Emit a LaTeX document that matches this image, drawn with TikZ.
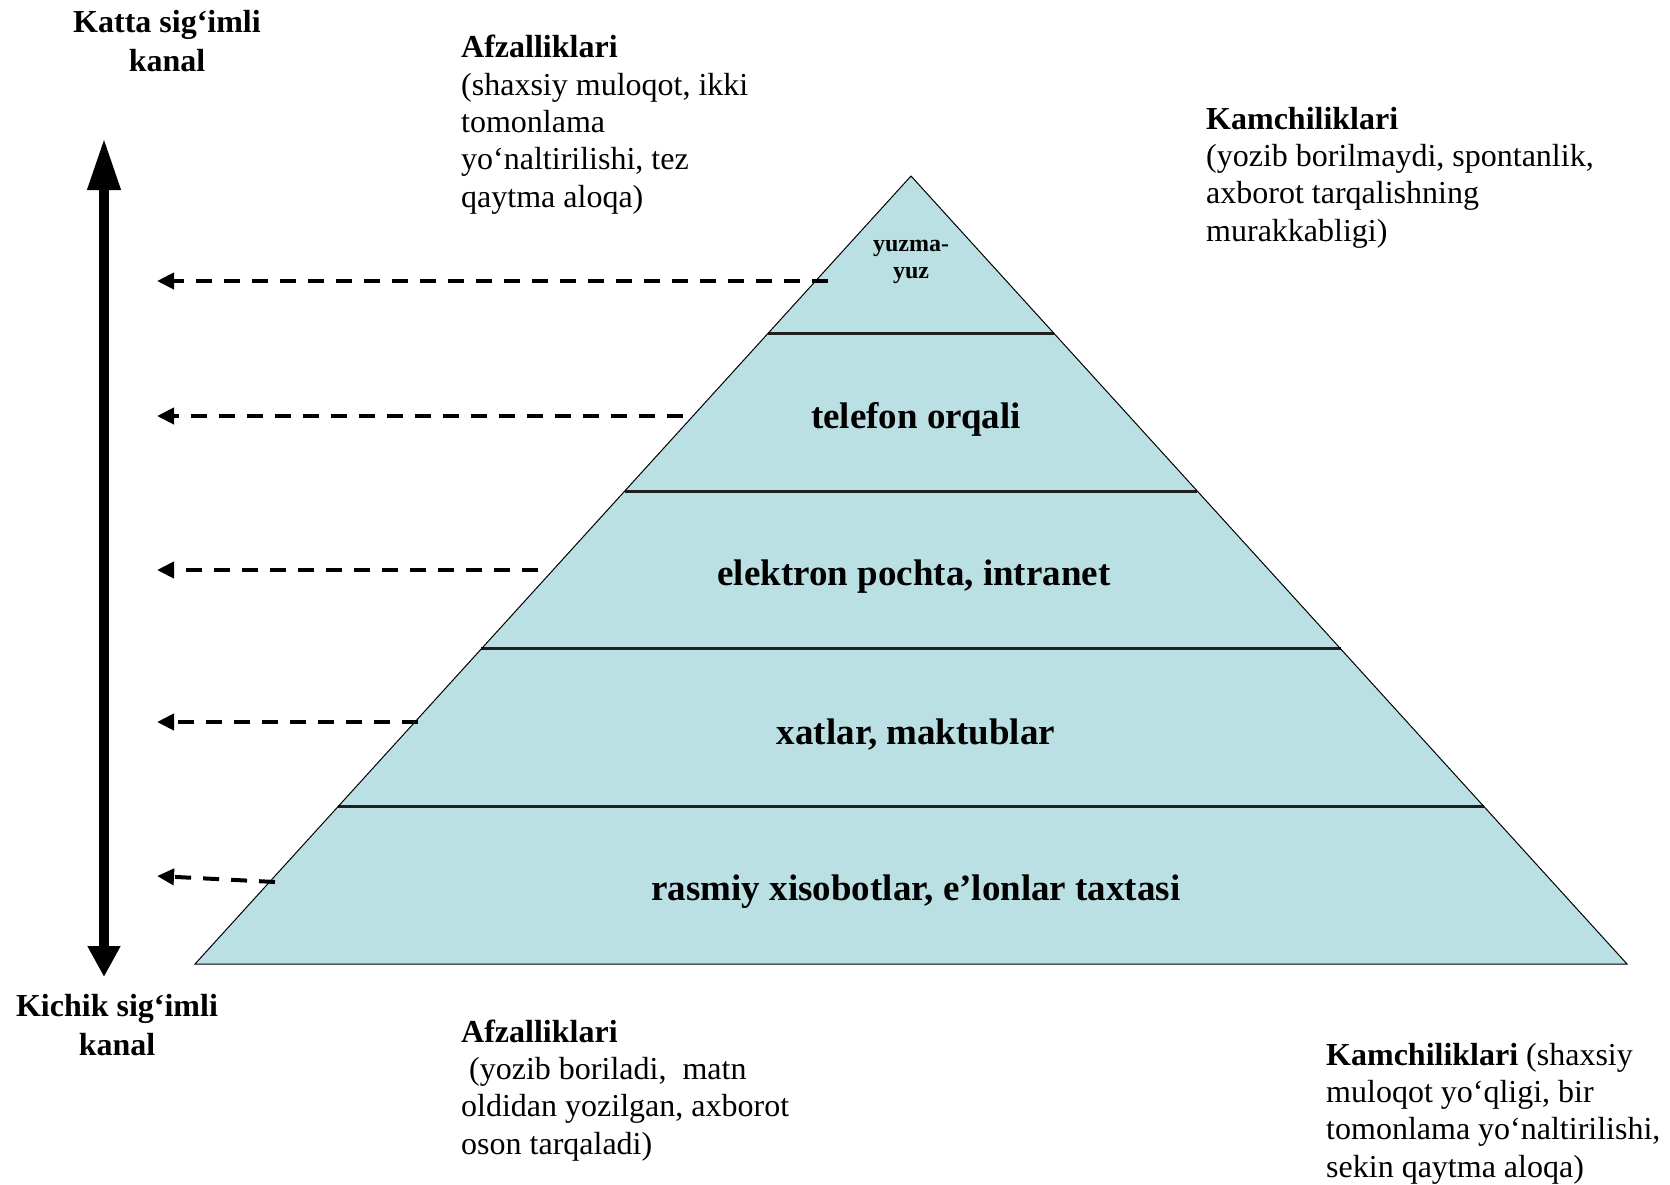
\documentclass[tikz,border=0pt]{standalone}
\usepackage{fontspec}
\setmainfont{Liberation Serif}
\usetikzlibrary{arrows.meta,calc}
\definecolor{pyrfill}{RGB}{187,224,227}
\begin{document}
\begin{tikzpicture}[x=1pt,y=-1pt,
  % multi-line nodes: the base anchor sits on the last line
  body/.style={anchor=base west, align=left, inner sep=0pt,
    font=\fontsize{32}{37.3}\selectfont},
  sidelabel/.style={anchor=base, align=center, inner sep=0pt,
    font=\fontsize{32}{38.5}\selectfont\bfseries},
  bandlabel/.style={anchor=base, align=center, inner sep=0pt,
    font=\fontsize{37}{42}\selectfont\bfseries},
  toplabel/.style={anchor=base, align=center, inner sep=0pt,
    font=\fontsize{24}{27}\selectfont\bfseries},
  bandline/.style={line width=2.8pt, draw=black!88},
  pointer/.style={line width=4pt, dash pattern=on 16pt off 12pt,
    -{Triangle[length=17pt,width=16pt]}},
  capacityaxis/.style={line width=10pt,
    {Triangle[length=52pt,width=31pt]}-{Triangle[length=31pt,width=31pt]}}
]
\useasboundingbox (0,0) rectangle (1670,1184);

% pyramid
\coordinate (apex) at (911,176);
\coordinate (bl) at (195,964);
\coordinate (br) at (1627,964);
\fill[pyrfill] (apex) -- (bl) -- (br) -- cycle;
\foreach \k in {1,2,3,4} {
  \draw[bandline] ($(apex)!\k/5!(bl)$) -- ($(apex)!\k/5!(br)$);
}
\draw[line width=1pt] (apex) -- (bl) -- (br) -- cycle;

% band labels
\node[toplabel] (lface) at (911,278) {yuzma-\\yuz};
\node[bandlabel] (lphone) at (916,428) {telefon orqali};
\node[bandlabel] (lmail) at (914,585) {elektron pochta, intranet};
\node[bandlabel] (lletter) at (916,744) {xatlar, maktublar};
\node[bandlabel] (lboard) at (916,900) {rasmiy xisobotlar, e’lonlar taxtasi};

% channel capacity axis
\coordinate (axistop) at (104,138);
\coordinate (axisbot) at (104,977);
\draw[capacityaxis] (axistop) -- (axisbot);
\node[sidelabel] (big) at (167,71) {Katta sig‘imli\\kanal};
\node[sidelabel] (small) at (117,1055) {Kichik sig‘imli\\kanal};

% pointers from the bands to the axis
\coordinate (p1s) at (828,281);  \coordinate (p1e) at (157,281);
\coordinate (p2s) at (683,416);  \coordinate (p2e) at (157,416);
\coordinate (p3s) at (538,570);  \coordinate (p3e) at (157,570);
\coordinate (p4s) at (418,722);  \coordinate (p4e) at (157,722);
\coordinate (p5s) at (275,882);  \coordinate (p5e) at (157,876);
\foreach \i in {1,...,5} {
  \draw[pointer] (p\i s) -- (p\i e);
}

% advantages and drawbacks
\node[body] (advtop) at (461,207) {\textbf{Afzalliklari}\\(shaxsiy muloqot, ikki\\tomonlama\\yo‘naltirilishi, tez\\qaytma aloqa)};
\node[body] (distop) at (1206,241) {\textbf{Kamchiliklari}\\(yozib borilmaydi, spontanlik,\\axborot tarqalishning\\murakkabligi)};
\node[body] (advbot) at (461,1154) {\textbf{Afzalliklari}\\\ (yozib boriladi,\ \ matn\\oldidan yozilgan, axborot\\oson tarqaladi)};
\node[body] (disbot) at (1326,1177) {\textbf{Kamchiliklari} (shaxsiy\\muloqot yo‘qligi, bir\\tomonlama yo‘naltirilishi,\\sekin qaytma aloqa)};
\end{tikzpicture}
\end{document}
